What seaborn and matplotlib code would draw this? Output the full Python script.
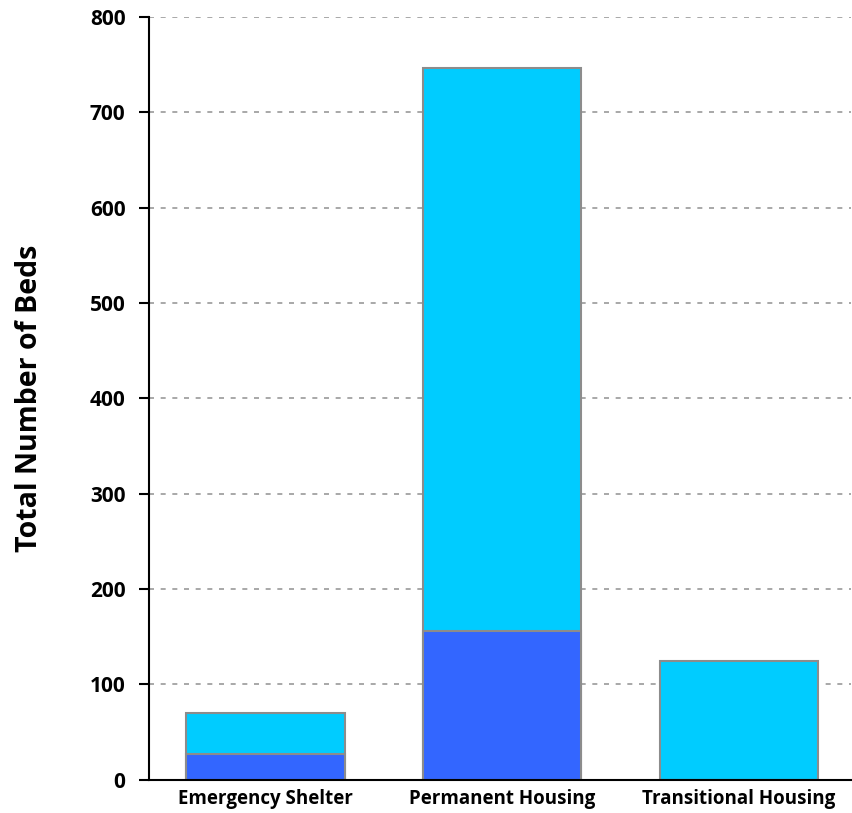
import pandas as pd
import matplotlib.pyplot as plt
import seaborn as sns

# 数据
categories = ['Emergency Shelter', 'Permanent Housing', 'Transitional Housing']
beds_bottom = [27, 156, 0]
beds_total = [70, 747, 124]

df = pd.DataFrame({'category': categories, 'bottom': beds_bottom, 'total': beds_total})

sns.set_style('white')
plt.rcParams['font.family'] = ['Open Sans', 'DejaVu Sans']

fig = plt.figure(figsize=(8.52, 8.13), dpi=100)
ax = fig.add_axes([0.175, 0.041, 0.824, 0.938])

# 总数（浅蓝），底层（深蓝）
sns.barplot(data=df, x='category', y='total', color='#00CCFF', saturation=1,
            width=0.668, edgecolor='#8C8C8C', linewidth=1.5, ax=ax, zorder=2)
sns.barplot(data=df, x='category', y='bottom', color='#3366FF', saturation=1,
            width=0.668, edgecolor='#8C8C8C', linewidth=1.5, ax=ax, zorder=2)

ax.set_xlim(-0.492, 2.474)
ax.set_ylim(0, 800)
ax.set_yticks(range(0, 801, 100))
ax.yaxis.grid(True, linestyle=(0, (3, 4)), color='#999999', linewidth=1.2, zorder=0)
ax.set_axisbelow(True)

for side in ['top', 'right']:
    ax.spines[side].set_visible(False)
for side in ['left', 'bottom']:
    ax.spines[side].set_color('black')
    ax.spines[side].set_linewidth(1.5)

ax.tick_params(axis='y', left=True, length=7, width=1.5, color='black',
               labelsize=15, pad=10)
ax.tick_params(axis='x', bottom=False, labelsize=13.5, pad=3)
for lbl in ax.get_xticklabels() + ax.get_yticklabels():
    lbl.set_fontweight('bold')
    lbl.set_color('black')

ax.set_xlabel('')
ax.set_ylabel('Total Number of Beds', fontsize=20.5, fontweight='bold',
              labelpad=33, color='black')

fig.savefig('out.png', dpi=100)
